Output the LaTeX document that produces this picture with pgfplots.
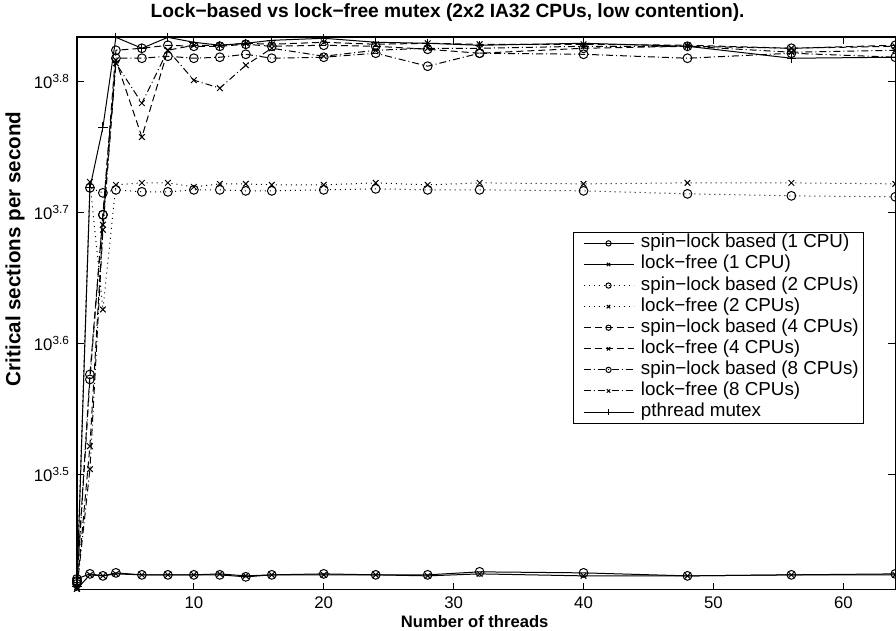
\documentclass[border=0pt]{standalone}
\usepackage{fontspec}
\setmainfont{Liberation Sans}
\usepackage{pgfplots}
\usepackage{pgfplotstable}
\pgfplotsset{compat=1.18}

% critical sections per second
\pgfplotstableread{
n   sla    lfa    slb    lfb    slc    lfc    sld    lfd    pth
1   2631.7 2586.0 2622.5 2595.1 2617.9 2586.0 2608.7 2586.0 2595.1
2   2654.9 2650.3 5233.8 5289.1 3770.4 3323.2 3737.5 3191.8 5233.8
3   2645.6 2645.6 5188.1 4225.9 4991.8 4905.0 4991.8 4862.2 5824.6
4   2659.6 2654.9 5215.5 5261.4 6666.8 6550.8 6573.9 6516.5 6820.0
6   2650.3 2650.3 5197.2 5279.8 6690.2 5723.4 6573.9 6075.0 6690.2
8   2650.3 2650.3 5197.2 5279.8 6725.4 6666.8 6597.0 6666.8 6820.0
10  2650.3 2650.3 5215.5 5243.0 6713.7 6725.4 6573.9 6325.1 6760.9
12  2650.3 2654.9 5215.5 5270.6 6713.7 6725.4 6585.4 6237.0 6725.4
14  2641.0 2645.6 5206.4 5270.6 6737.3 6749.1 6620.1 6493.7 6749.1
16  2650.3 2650.3 5206.4 5261.4 6713.7 6737.3 6573.9 6690.2 6784.7
20  2654.9 2650.3 5215.5 5261.4 6725.4 6760.9 6585.4 6597.0 6808.5
24  2650.3 2650.3 5224.6 5279.8 6713.7 6737.3 6631.8 6666.8 6760.9
28  2650.3 2645.6 5215.5 5261.4 6678.5 6749.1 6482.3 6690.2 6749.1
32  2664.3 2654.9 5215.5 5279.8 6631.8 6737.3 6631.8 6690.2 6725.4
40  2659.6 2645.6 5206.4 5270.6 6690.2 6737.3 6620.1 6713.7 6749.1
48  2645.6 2645.6 5179.0 5279.8 6713.7 6725.4 6573.9 6713.7 6713.7
56  2650.3 2650.3 5160.9 5279.8 6690.2 6690.2 6631.8 6643.4 6573.9
64  2654.9 2650.3 5151.8 5270.6 6725.4 6713.7 6585.4 6666.8 6585.4
}\locks

\pgfplotsset{
  every axis plot/.append style={line width=0.5pt, black},
  cdot/.style={dash pattern=on 0.5pt off 2pt},
  cdash/.style={dash pattern=on 3.5pt off 2pt},
  cdd/.style={dash pattern=on 3.5pt off 1.5pt on 0.5pt off 1.5pt},
  mo/.style={mark=o, mark size=2.2pt, mark options={solid}},
  mx/.style={mark=x, mark size=2pt, mark options={solid}},
  mp/.style={mark=+, mark size=2.3pt, mark options={solid}},
}

\begin{document}
\begin{tikzpicture}
\begin{axis}[
  at={(0,0)}, anchor=south west,
  scale only axis, width=409.5pt, height=276.5pt,
  xmin=1, xmax=64, ymin=2583, ymax=6825,
  ymode=log,
  xtick={10,20,30,40,50,60},
  xticklabels={10,20,30,40,50,60},
  ytick={3162.28,3981.07,5011.87,6309.57},
  yticklabels={10\textsuperscript{3.5},10\textsuperscript{3.6},10\textsuperscript{3.7},10\textsuperscript{3.8}},
  yminorticks=false,
  tick align=inside, major tick length=3.5pt,
  every tick/.style={black, line width=0.6pt},
  axis line style={line width=0.7pt},
  ticklabel style={font=\fontsize{8.4}{10}\selectfont},
  title={Lock−based vs lock−free mutex (2x2 IA32 CPUs, low contention).},
  title style={at={(0.453,1.0217)}, anchor=center, font=\bfseries\fontsize{9.6}{11}\selectfont},
  xlabel={Number of threads},
  xlabel style={at={(0.486,-0.0579)}, anchor=center, font=\bfseries\fontsize{8.3}{10}\selectfont},
  ylabel={Critical sections per second},
  ylabel style={at={(-0.0757,0.6166)}, anchor=center, font=\bfseries\fontsize{10.3}{12}\selectfont},
  legend cell align=left,
  legend style={at={(0.6056,0.6474)}, anchor=north west, draw=black, line width=0.5pt, fill=white,
    font=\fontsize{9.4}{11}\selectfont, inner xsep=2pt, inner ysep=0.3pt, row sep=0pt,
    nodes={inner xsep=0.5pt, inner ysep=0pt, text height=7.5pt, text depth=3.05pt}},
  legend image code/.code={
    \path (-3pt,0pt) (28pt,0pt);
    \draw[mark repeat=2, mark phase=2, #1, mark options={solid, scale=0.6}]
      plot coordinates {(0pt,0pt) (12.5pt,0pt) (25pt,0pt)};
  },
]
\addplot[mo] table[x=n, y=sla] {\locks};
\addlegendentry{spin−lock based (1 CPU)}
\addplot[mx] table[x=n, y=lfa] {\locks};
\addlegendentry{lock−free (1 CPU)}
\addplot[mo, cdot] table[x=n, y=slb] {\locks};
\addlegendentry{spin−lock based (2 CPUs)}
\addplot[mx, cdot] table[x=n, y=lfb] {\locks};
\addlegendentry{lock−free (2 CPUs)}
\addplot[mo, cdash] table[x=n, y=slc] {\locks};
\addlegendentry{spin−lock based (4 CPUs)}
\addplot[mx, cdash] table[x=n, y=lfc] {\locks};
\addlegendentry{lock−free (4 CPUs)}
\addplot[mo, cdd] table[x=n, y=sld] {\locks};
\addlegendentry{spin−lock based (8 CPUs)}
\addplot[mx, cdd] table[x=n, y=lfd] {\locks};
\addlegendentry{lock−free (8 CPUs)}
\addplot[mp] table[x=n, y=pth] {\locks};
\addlegendentry{pthread mutex}
\end{axis}
\pgfresetboundingbox
\path[use as bounding box] (-38.5pt,-20.5pt) rectangle (409.85pt,295pt);
\end{tikzpicture}
\end{document}
